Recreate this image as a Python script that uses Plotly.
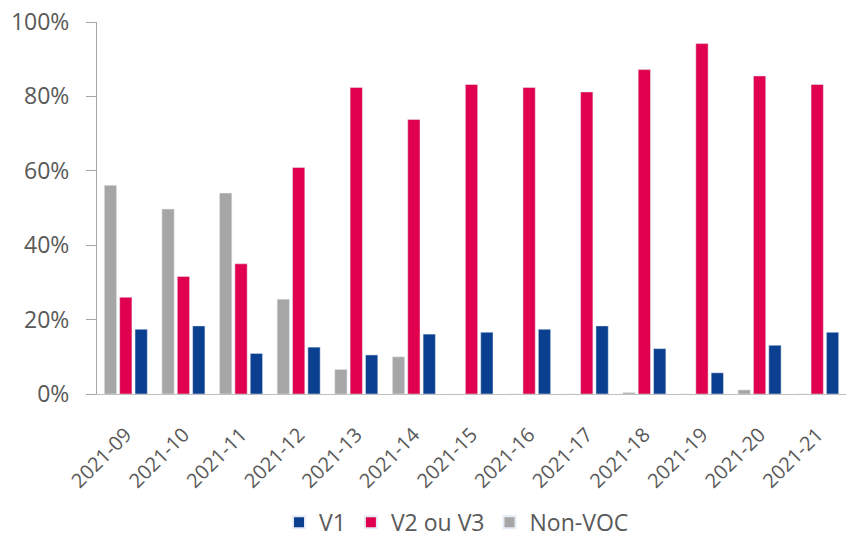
import plotly.graph_objects as go

weeks = ["2021-09", "2021-10", "2021-11", "2021-12", "2021-13", "2021-14", "2021-15",
         "2021-16", "2021-17", "2021-18", "2021-19", "2021-20", "2021-21"]
v1 = [17.4, 18.3, 10.9, 12.6, 10.5, 16.1, 16.6, 17.4, 18.3, 12.2, 5.7, 13.1, 16.6]
v2v3 = [26.0, 31.6, 35.0, 60.9, 82.4, 73.8, 83.2, 82.4, 81.2, 87.2, 94.2, 85.5, 83.2]
non_voc = [56.1, 49.7, 54.0, 25.5, 6.6, 10.0, 0, 0, 0, 0.4, 0, 1.1, 0]
y_ticks = [0, 20, 40, 60, 80, 100]
y_tick_text = ["0%", "20%", "40%", "60%", "80%", "100%"]

FONT = "Open Sans"
GREY_TXT = "#595959"

fig = go.Figure()
fig.add_trace(go.Bar(name="Non-VOC", x=weeks, y=non_voc, marker_color="#a6a6a6"))
fig.add_trace(go.Bar(name="V2 ou V3", x=weeks, y=v2v3, marker_color="#e0004d"))
fig.add_trace(go.Bar(name="V1", x=weeks, y=v1, marker_color="#0b3f8f"))

fig.update_layout(
    width=846, height=540,
    margin=dict(l=97, r=0, t=22, b=146, autoexpand=False),
    paper_bgcolor="white", plot_bgcolor="white",
    barmode="group", bargap=0.2, bargroupgap=0.2,
    font=dict(family=FONT, color=GREY_TXT),
    showlegend=True,
    legend=dict(orientation="h", traceorder="reversed", x=0.48, xanchor="center",
                y=-0.345, yanchor="middle", font=dict(size=23, color=GREY_TXT),
                itemsizing="constant"),
)
fig.update_xaxes(type="category", showline=True, linecolor="#bfbfbf", linewidth=1, ticks="",
                 tickangle=-45, tickfont=dict(size=20, color=GREY_TXT), showgrid=False,
                 automargin=False, ticklabelstandoff=20)
fig.update_yaxes(range=[0, 100], tickmode="array", tickvals=y_ticks, ticktext=y_tick_text,
                 showline=True, linecolor="#a6a6a6", linewidth=1, ticks="outside",
                 ticklen=10, tickcolor="#a6a6a6", showgrid=False, zeroline=False,
                 tickfont=dict(size=23, color=GREY_TXT), ticklabelstandoff=12,
                 automargin=False)

fig.write_html("out.html", config={"displayModeBar": False},
               post_script="document.body.style.margin='0';document.body.style.overflow='hidden';")
